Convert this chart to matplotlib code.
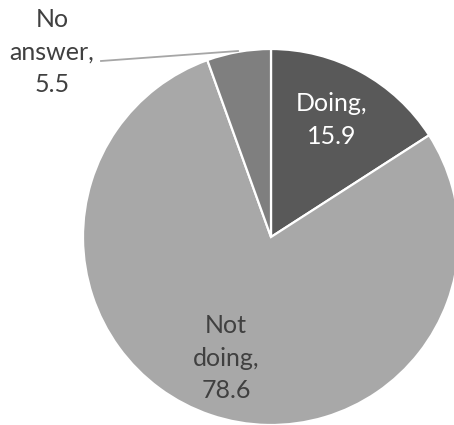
import matplotlib.pyplot as plt

# survey shares (%)
labels = ['Doing', 'Not doing', 'No answer']
values = [15.9, 78.6, 5.5]
colors = ['#595959', '#a8a8a8', '#7f7f7f']

W, H = 454, 425
fig = plt.figure(figsize=(W / 100, H / 100), dpi=100)
ax = fig.add_axes([0, 0, 1, 1])

cx, cy, r = 271, H - 237, 188
ax.pie(values, colors=colors, startangle=90, counterclock=False,
       center=(cx, cy), radius=r, frame=True,
       wedgeprops=dict(edgecolor='white', linewidth=1.6))
ax.set_xlim(0, W)
ax.set_ylim(0, H)
ax.set_aspect('equal')
ax.axis('off')

font = dict(family='Lato', fontsize=18, ha='center', va='center', linespacing=1.5)

ax.text(332, H - 120, f'{labels[0]},\n{values[0]}', color='white', **font)
ax.text(226, H - 358, 'Not\ndoing,\n' + str(values[1]), color='#404040', **font)
ax.text(52, H - 52, 'No\nanswer,\n' + str(values[2]), color='#404040', **font)

# leader line for the small slice
ax.plot([101, 238], [H - 61, H - 51], color='#a6a6a6', linewidth=1.3)

fig.savefig('out.png', dpi=100)
